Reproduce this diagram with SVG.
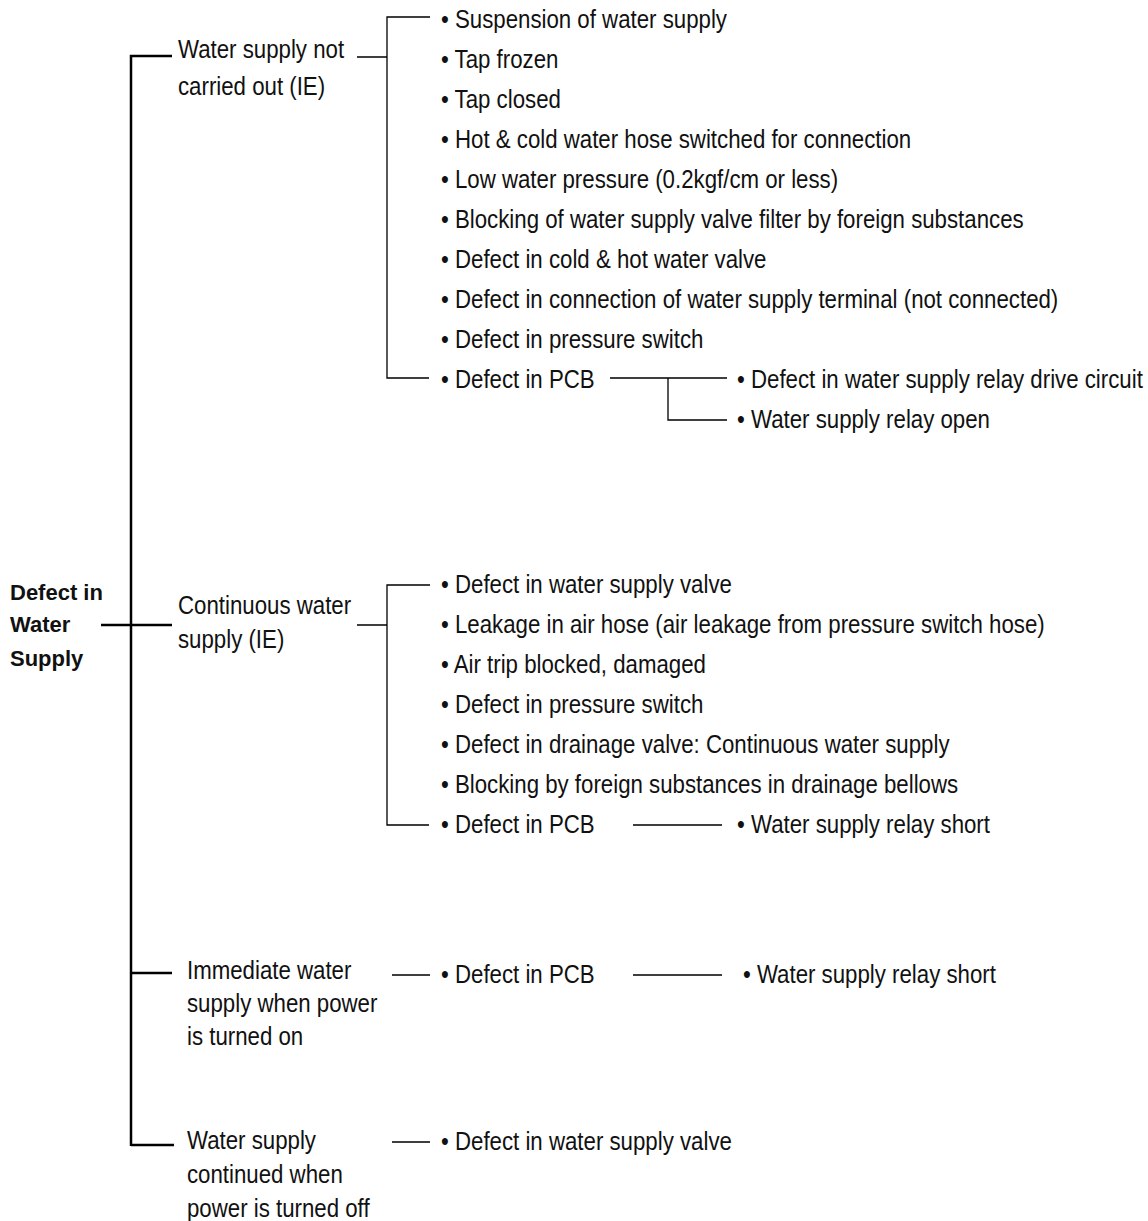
<svg xmlns="http://www.w3.org/2000/svg" width="1148" height="1221" viewBox="0 0 1148 1221">
<style>
text{font-family:"Liberation Sans",Arial,sans-serif;font-size:25px;fill:#111}
.b{font-weight:bold;font-size:22px}
.t{stroke:#000;stroke-width:2.5;fill:none}
.c{stroke:#000;stroke-width:1.3;fill:none}
</style>
<rect width="1148" height="1221" fill="#fff"/>
<g id="connectors">
<path class="t" d="M131 1146V56H172M101 625H172M131 973H172M131 1145H174"/>
<path class="c" d="M357 57H387M430 17H387V378H429M610 378H727M668 378V420H727"/>
<path class="c" d="M357 625H387M430 585H387V825H429M633 825H722"/>
<path class="c" d="M392 975H430M633 975H722M392 1142H430"/>
</g>
<g id="root"><text class="b" x="10" y="600">Defect in</text><text class="b" x="10" y="632">Water</text><text class="b" x="10" y="666">Supply</text></g>
<g id="n1" transform="scale(0.89 1)"><text x="200" y="58">Water supply not</text><text x="200" y="95">carried out (IE)</text></g>
<g id="n2" transform="scale(0.89 1)"><text x="200" y="614">Continuous water</text><text x="200" y="648">supply (IE)</text></g>
<g id="n3" transform="scale(0.89 1)"><text x="210.1" y="979">Immediate water</text><text x="210.1" y="1012">supply when power</text><text x="210.1" y="1045">is turned on</text></g>
<g id="n4" transform="scale(0.89 1)"><text x="210.1" y="1149">Water supply</text><text x="210.1" y="1183">continued when</text><text x="210.1" y="1217">power is turned off</text></g>
<g id="g1" transform="scale(0.89 1)">
<text x="495.5" y="28">• Suspension of water supply</text>
<text x="495.5" y="68">• Tap frozen</text>
<text x="495.5" y="108">• Tap closed</text>
<text x="495.5" y="148">• Hot &amp; cold water hose switched for connection</text>
<text x="495.5" y="188">• Low water pressure (0.2kgf/cm or less)</text>
<text x="495.5" y="228">• Blocking of water supply valve filter by foreign substances</text>
<text x="495.5" y="268">• Defect in cold &amp; hot water valve</text>
<text x="495.5" y="308">• Defect in connection of water supply terminal (not connected)</text>
<text x="495.5" y="348">• Defect in pressure switch</text>
<text x="495.5" y="388">• Defect in PCB</text>
<text x="828.1" y="388">• Defect in water supply relay drive circuit</text>
<text x="828.1" y="428">• Water supply relay open</text>
</g>
<g id="g2" transform="scale(0.89 1)">
<text x="495.5" y="593">• Defect in water supply valve</text>
<text x="495.5" y="633">• Leakage in air hose (air leakage from pressure switch hose)</text>
<text x="495.5" y="673">• Air trip blocked, damaged</text>
<text x="495.5" y="713">• Defect in pressure switch</text>
<text x="495.5" y="753">• Defect in drainage valve: Continuous water supply</text>
<text x="495.5" y="793">• Blocking by foreign substances in drainage bellows</text>
<text x="495.5" y="833">• Defect in PCB</text>
<text x="828.1" y="833">• Water supply relay short</text>
</g>
<g id="g3" transform="scale(0.89 1)">
<text x="495.5" y="983">• Defect in PCB</text>
<text x="834.8" y="983">• Water supply relay short</text>
</g>
<g id="g4" transform="scale(0.89 1)">
<text x="495.5" y="1150">• Defect in water supply valve</text>
</g>
</svg>
